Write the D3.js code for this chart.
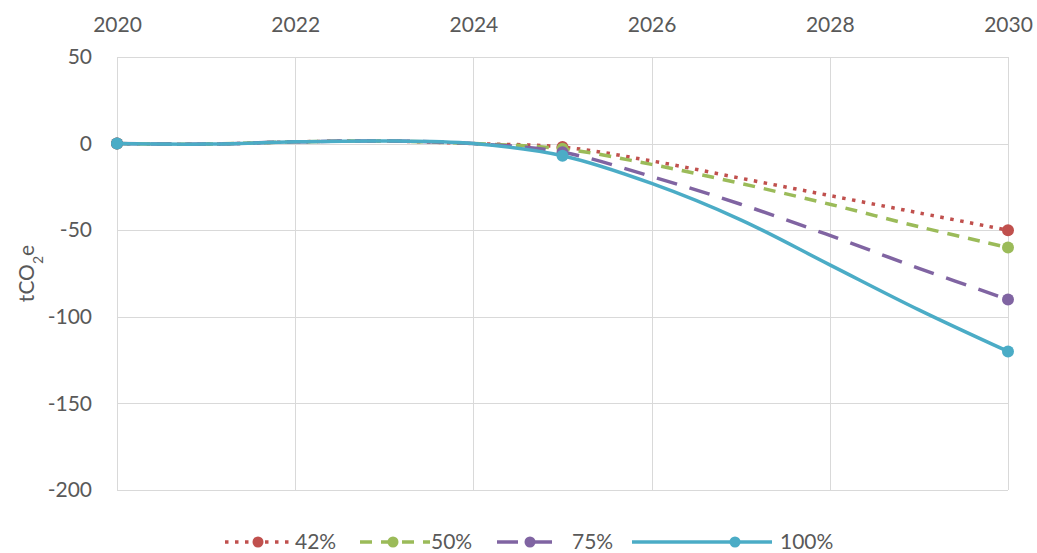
<!DOCTYPE html>
<html>
<head>
<meta charset="utf-8">
<script src="https://cdn.jsdelivr.net/npm/d3@7"></script>
<style>
  html, body { margin: 0; padding: 0; background: #fff; }
  svg { display: block; font-family: Lato, "Open Sans", sans-serif; }
</style>
</head>
<body>
<svg id="chart" width="1037" height="553"></svg>
<script>
// Emission change per scenario, tCO2e, by year
const years = [2020, 2021, 2022, 2023, 2024, 2025, 2026, 2027, 2028, 2029, 2030];
const series42 = [0, -0.3, 1, 1.5, 0, -2, -10, -20, -30, -40, -50];
const series50 = [0, -0.3, 1, 1.5, 0, -3, -12, -23, -35, -48, -60];
const series75 = [0, -0.3, 1, 1.5, 0, -5, -19, -35, -53, -72, -90];
const series100 = [0, -0.3, 1, 1.5, 0, -7, -23, -44, -70, -96, -120];
const markerYears = [2020, 2025, 2030];
const seriesNames = ["42%", "50%", "75%", "100%"];
const xTicks = [2020, 2022, 2024, 2026, 2028, 2030];
const yTicks = [50, 0, -50, -100, -150, -200];

const styles = {
  "42%":  { color: "#C0504D", dash: "3.5,6.5", cap: "butt" },
  "50%":  { color: "#9BBB59", dash: "12,9", cap: "butt" },
  "75%":  { color: "#8064A2", dash: "21,13", cap: "butt" },
  "100%": { color: "#4BACC6", dash: null, cap: "round" }
};
const seriesValues = [series42, series50, series75, series100];

const svg = d3.select("#chart");
const textColor = "#595959";
const gridColor = "#D9D9D9";

const x = d3.scaleLinear().domain([2020, 2030]).range([117, 1008]);
const y = d3.scaleLinear().domain([-200, 50]).range([490, 57]);

// Gridlines
svg.append("g").selectAll("line").data(yTicks).join("line")
  .attr("x1", x.range()[0]).attr("x2", x.range()[1])
  .attr("y1", d => Math.round(y(d)) + 0.5).attr("y2", d => Math.round(y(d)) + 0.5)
  .attr("stroke", gridColor).attr("stroke-width", 1);
svg.append("g").selectAll("line").data(xTicks).join("line")
  .attr("x1", d => Math.round(x(d)) + 0.5).attr("x2", d => Math.round(x(d)) + 0.5)
  .attr("y1", y.range()[1]).attr("y2", y.range()[0])
  .attr("stroke", gridColor).attr("stroke-width", 1);

// Axes (labels only, the gridlines carry the structure)
const xAxis = svg.append("g").attr("transform", `translate(0,${y.range()[1] - 25})`)
  .call(d3.axisTop(x).tickValues(xTicks).tickFormat(d3.format("d")).tickSize(0).tickPadding(0));
const yAxis = svg.append("g").attr("transform", `translate(${x.range()[0] - 25},0)`)
  .call(d3.axisLeft(y).tickValues(yTicks).tickFormat(d => d < 0 ? "-" + Math.abs(d) : d).tickSize(0).tickPadding(0));
[xAxis, yAxis].forEach(g => {
  g.select(".domain").remove();
  g.selectAll("text").attr("fill", textColor).style("font-size", "21px").style("font-family", "Lato, 'Open Sans', sans-serif");
});
xAxis.selectAll("text").attr("dy", "0");

// Y axis title with subscript
const yTitle = svg.append("text")
  .attr("transform", `translate(34,${(y.range()[0] + y.range()[1]) / 2}) rotate(-90)`)
  .attr("text-anchor", "middle").attr("fill", textColor).style("font-size", "21px");
yTitle.append("tspan").text("tCO");
yTitle.append("tspan").text("2").attr("baseline-shift", "sub").style("font-size", "14px");
yTitle.append("tspan").text("e");

// Series lines
const line = d3.line().x(d => x(d.year)).y(d => y(d.value)).curve(d3.curveCatmullRom.alpha(0.5));
const seriesData = seriesNames.map((name, i) => ({
  name,
  points: years.map((yr, j) => ({ year: yr, value: seriesValues[i][j] }))
}));

const seriesG = svg.append("g").selectAll("g").data(seriesData).join("g");
seriesG.append("path")
  .attr("d", d => line(d.points))
  .attr("fill", "none")
  .attr("stroke", d => styles[d.name].color)
  .attr("stroke-width", 3.5)
  .attr("stroke-linecap", d => styles[d.name].cap)
  .attr("stroke-dasharray", d => styles[d.name].dash);
seriesG.selectAll("circle")
  .data(d => d.points.filter(p => markerYears.includes(p.year)).map(p => ({ ...p, name: d.name })))
  .join("circle")
  .attr("cx", d => x(d.year)).attr("cy", d => y(d.value)).attr("r", 6)
  .attr("fill", d => styles[d.name].color);

// Legend
const legendLayout = [
  { name: "42%", x0: 225, x1: 291, mx: 258, tx: 295 },
  { name: "50%", x0: 360, x1: 430, mx: 393, tx: 431 },
  { name: "75%", x0: 497, x1: 563, mx: 530, tx: 572 },
  { name: "100%", x0: 632, x1: 772, mx: 735, tx: 780 }
];
const legendY = 542;
const lg = svg.append("g").selectAll("g").data(legendLayout).join("g");
lg.append("line")
  .attr("x1", d => d.x0).attr("x2", d => d.x1).attr("y1", legendY).attr("y2", legendY)
  .attr("stroke", d => styles[d.name].color).attr("stroke-width", 3.5)
  .attr("stroke-dasharray", d => styles[d.name].dash);
lg.append("circle").attr("cx", d => d.mx).attr("cy", legendY).attr("r", 5.5)
  .attr("fill", d => styles[d.name].color);
lg.append("text").attr("x", d => d.tx).attr("y", legendY + 7)
  .attr("fill", textColor).style("font-size", "21px").text(d => d.name);
</script>
</body>
</html>
